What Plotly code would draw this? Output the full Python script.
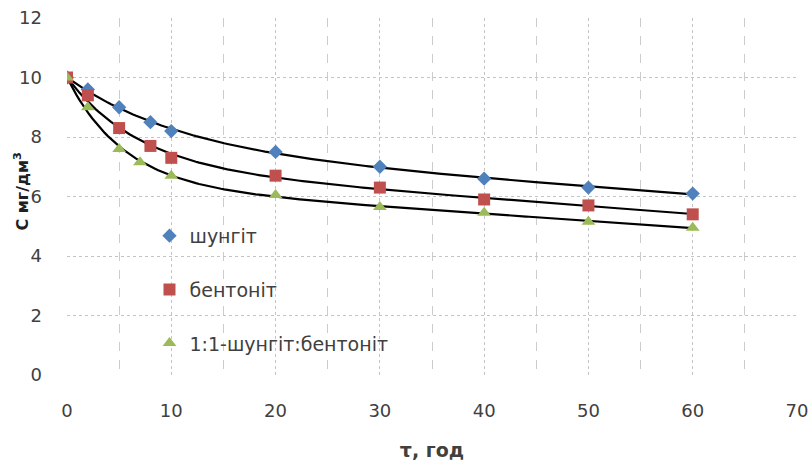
import numpy as np
import plotly.graph_objects as go

x_shungit = [0, 2, 5, 8, 10, 20, 30, 40, 50, 60]
y_shungit = [10, 9.6, 9.0, 8.5, 8.2, 7.5, 7.0, 6.6, 6.3, 6.1]

x_bent = [0, 2, 5, 8, 10, 20, 30, 40, 50, 60]
y_bent = [10, 9.4, 8.3, 7.7, 7.3, 6.7, 6.3, 5.9, 5.7, 5.4]

x_mix = [0, 2, 5, 7, 10, 20, 30, 40, 50, 60]
y_mix = [10, 9.0, 7.6, 7.15, 6.7, 6.05, 5.65, 5.45, 5.15, 4.95]

names = ["шунгіт", "бентоніт", "1:1-шунгіт:бентоніт"]
colors = ["#4F81BD", "#C0504D", "#9BBB59"]
symbols = ["diamond", "square", "triangle-up"]
sizes = [11, 12, 12]


def trend(xs, ys):
    """Fit y = A + B*exp(-k x) + C*x by grid search over k (least squares)."""
    xs = np.asarray(xs, float)
    ys = np.asarray(ys, float)
    w = np.ones_like(xs)
    w[0] = 20.0  # pin start
    best = None
    for k in np.linspace(0.01, 0.5, 500):
        M = np.column_stack([np.ones_like(xs), np.exp(-k * xs), xs])
        coef, *_ = np.linalg.lstsq(M * w[:, None], ys * w, rcond=None)
        r = np.sum(((M @ coef) - ys) ** 2)
        if best is None or r < best[0]:
            best = (r, k, coef)
    _, k, coef = best
    xf = np.linspace(0, 60, 200)
    yf = coef[0] + coef[1] * np.exp(-k * xf) + coef[2] * xf
    return xf, yf


fig = go.Figure()
series = [(x_shungit, y_shungit), (x_bent, y_bent), (x_mix, y_mix)]
for i, (xs, ys) in enumerate(series):
    xf, yf = trend(xs, ys)
    fig.add_trace(go.Scatter(x=xf, y=yf, mode="lines",
                             line=dict(color="black", width=2.2),
                             showlegend=False, hoverinfo="skip"))
for i, (xs, ys) in enumerate(series):
    fig.add_trace(go.Scatter(x=xs, y=ys, mode="markers", name=names[i],
                             legendgroup=str(i),
                             marker=dict(color=colors[i], symbol=symbols[i], size=sizes[i])))

fig.update_layout(
    width=810, height=461,
    margin=dict(l=67, r=13, t=18, b=86, autoexpand=False),
    plot_bgcolor="white", paper_bgcolor="white",
    font=dict(family="DejaVu Sans", size=18, color="#404040"),
    legend=dict(x=0.113, y=0.443, xanchor="left", yanchor="top",
                bgcolor="rgba(0,0,0,0)", tracegroupgap=26,
                font=dict(size=19, color="#404040")),
    xaxis=dict(range=[0, 70], dtick=10, tick0=0, showgrid=True, automargin=False,
               gridcolor="#c4c4c4", griddash="dot", gridwidth=1,
               minor=dict(dtick=5, showgrid=True, gridcolor="#cccccc", griddash="dash"),
               zeroline=False, showline=False, ticks="", ticklabelstandoff=23,
               ticklabeloverflow="allow",
               title=dict(text="<b>τ, год</b>", font=dict(size=19, color="#404040"), standoff=24)),
    yaxis=dict(range=[0, 12], dtick=2, showgrid=True, automargin=False,
               gridcolor="#c4c4c4", griddash="dot", gridwidth=1,
               zeroline=False, showline=False, ticks="", ticklabelstandoff=24,
               ticklabeloverflow="allow"),
    annotations=[dict(text="<b>C мг/дм<sup>3</sup></b>", xref="paper", yref="paper",
                      x=-0.062, y=0.513, xanchor="center", yanchor="middle",
                      textangle=-90, showarrow=False,
                      font=dict(size=16, color="#202020"))],
)
fig.write_html("out.html", config={"displayModeBar": False},
               post_script="document.body.style.margin='0';document.body.style.overflow='hidden';")
